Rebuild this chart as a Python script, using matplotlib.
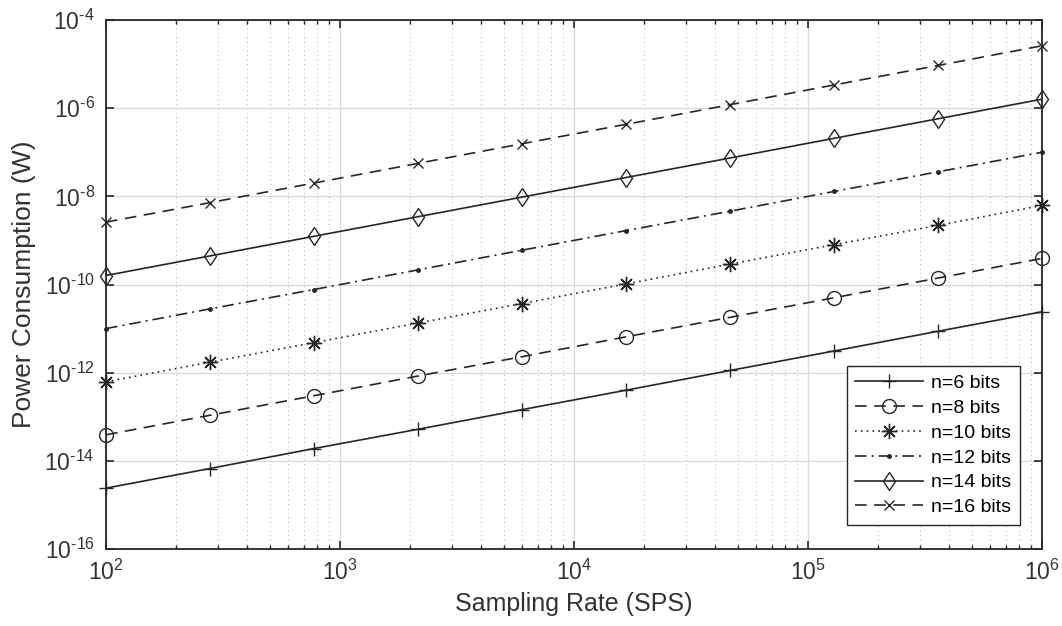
import matplotlib
matplotlib.use('Agg')
import matplotlib.pyplot as plt
from matplotlib.ticker import LogLocator, NullFormatter, FixedLocator, FuncFormatter
import numpy as np

plt.rcParams['font.family'] = ['Liberation Sans', 'DejaVu Sans']
plt.rcParams['mathtext.fontset'] = 'custom'
plt.rcParams['mathtext.rm'] = 'Liberation Sans'
plt.rcParams['mathtext.it'] = 'Liberation Sans'

# sample rates where the curves are evaluated (SPS)
fs = [1.0e2, 2.78e2, 7.74e2, 2.154e3, 5.995e3, 1.668e4, 4.642e4, 1.292e5, 3.594e5, 1.0e6]

# power consumption (W) for each resolution
p_6 = [2.4e-15, 6.7e-15, 1.9e-14, 5.2e-14, 1.45e-13, 4.0e-13, 1.12e-12, 3.1e-12, 8.7e-12, 2.4e-11]
p_8 = [3.9e-14, 1.08e-13, 3.0e-13, 8.4e-13, 2.3e-12, 6.5e-12, 1.8e-11, 5.0e-11, 1.4e-10, 3.9e-10]
p_10 = [6.2e-13, 1.73e-12, 4.8e-12, 1.34e-11, 3.7e-11, 1.03e-10, 2.9e-10, 8.0e-10, 2.2e-9, 6.2e-9]
p_12 = [1.0e-11, 2.8e-11, 7.7e-11, 2.15e-10, 6.0e-10, 1.67e-9, 4.6e-9, 1.29e-8, 3.6e-8, 1.0e-7]
p_14 = [1.6e-10, 4.45e-10, 1.24e-9, 3.45e-9, 9.6e-9, 2.67e-8, 7.4e-8, 2.07e-7, 5.75e-7, 1.6e-6]
p_16 = [2.6e-9, 7.2e-9, 2.0e-8, 5.6e-8, 1.56e-7, 4.3e-7, 1.2e-6, 3.36e-6, 9.3e-6, 2.6e-5]

labels = ['n=6 bits', 'n=8 bits', 'n=10 bits', 'n=12 bits', 'n=14 bits', 'n=16 bits']
series = [p_6, p_8, p_10, p_12, p_14, p_16]

# line style / marker per resolution
styles = [
    dict(ls='-', marker='+', ms=10),
    dict(ls=(0, (7, 4.5)), marker='o', ms=10, mfc='none'),
    dict(ls=(0, (1, 2.5)), marker=(8, 2, 0), ms=11),
    dict(ls=(0, (7, 3, 1.2, 3)), marker='.', ms=5),
    dict(ls='-', marker='d', ms=9.5, mfc='none'),
    dict(ls=(0, (7, 4.5)), marker='x', ms=7.5),
]

col = '#262626'
fig = plt.figure(figsize=(10.62, 6.26), dpi=100)
ax = fig.add_axes([106 / 1062, 1 - 549 / 626, (1042 - 106) / 1062, (549 - 20) / 626])

# markers at the axis edges are drawn whole
for vals, lab, st in zip(series, labels, styles):
    ax.plot(fs, vals, color=col, lw=1.2, mew=1.0, label=lab, clip_on=False, **st)

ax.set_xscale('log')
ax.set_yscale('log')
ax.set_xlim(1e2, 1e6)
ax.set_ylim(1e-16, 1e-4)


def pow_label(v, pos):
    k = int(round(np.log10(v)))
    if k < 0:
        return r'$\mathdefault{10^{\text{-}%d}}$' % (-k)
    return r'$\mathdefault{10^{%d}}$' % k


ax.yaxis.set_major_locator(FixedLocator([10.0 ** k for k in range(-16, -3, 2)]))
ax.yaxis.set_minor_locator(FixedLocator([]))
ax.xaxis.set_major_locator(LogLocator(base=10, numticks=10))
ax.xaxis.set_minor_locator(LogLocator(base=10, subs=range(2, 10), numticks=20))
ax.xaxis.set_minor_formatter(NullFormatter())
ax.xaxis.set_major_formatter(FuncFormatter(pow_label))
ax.yaxis.set_major_formatter(FuncFormatter(pow_label))

ax.grid(True, which='major', color='#d8d8d8', lw=0.9, ls='-')
ax.grid(True, which='minor', axis='x', color='#bdbdbd', lw=0.8, ls=(0, (1, 3)))
ax.set_axisbelow(True)

ax.tick_params(which='both', direction='in', top=True, right=True, colors='#262626', labelcolor='#333333')
ax.tick_params(which='major', length=6, width=1.2, labelsize=16.5)
ax.tick_params(axis='x', which='major', pad=8)
ax.tick_params(axis='y', which='major', pad=8)
ax.tick_params(which='minor', length=3, width=1.0)
for sp in ax.spines.values():
    sp.set_color('#262626')
    sp.set_linewidth(1.3)

ax.set_xlabel('Sampling Rate (SPS)', fontsize=18, color='#333333', labelpad=5)
ax.set_ylabel('Power Consumption (W)', fontsize=19, color='#333333', labelpad=6)

leg = ax.legend(loc='lower right', bbox_to_anchor=(1020 / 1062, 1 - 525 / 626),
                bbox_transform=fig.transFigure, borderaxespad=0, fontsize=14,
                fancybox=False, framealpha=1, edgecolor='#262626', handlelength=3.5,
                borderpad=0.45, labelspacing=0.37, handletextpad=0.4)
leg.get_frame().set_linewidth(1.0)
leg.set_zorder(5)

fig.savefig('out.png', dpi=100)
